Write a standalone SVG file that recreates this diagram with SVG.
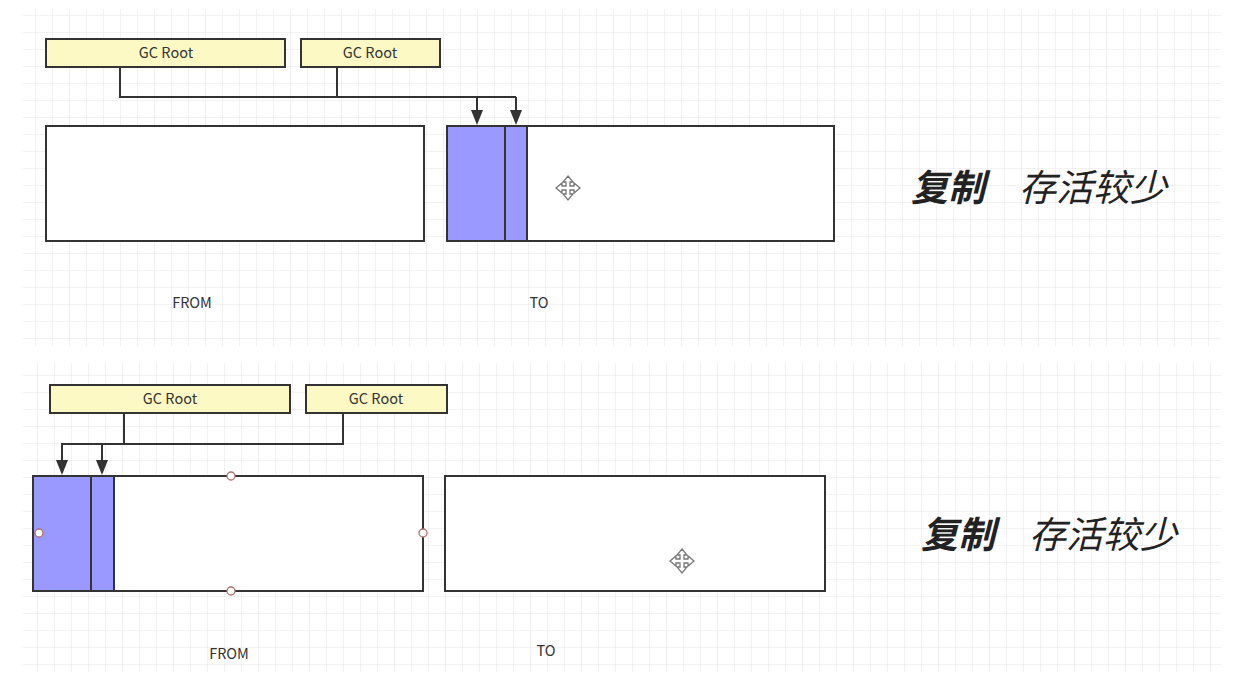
<svg xmlns="http://www.w3.org/2000/svg" width="1239" height="679" viewBox="0 0 1239 679">
<defs>
<style>
.root{fill:#fdf9c4;stroke:#333;stroke-width:2}
.box{fill:#fff;stroke:#333;stroke-width:2}
.blue{fill:#9999ff;stroke:#333;stroke-width:2}
.conn{fill:none;stroke:#333;stroke-width:2}
.lbl{font-family:"Noto Sans CJK SC","Open Sans",sans-serif;font-size:14.5px;fill:#333;text-anchor:middle}
.big{font-family:"Noto Sans CJK SC",sans-serif;font-size:37px;fill:#222;font-style:italic}
.handle{fill:#fff;stroke:#b07070;stroke-width:1.3}
.cur{fill:#fff;stroke:#777;stroke-width:1.3}
.ah{fill:#333}
</style>
<pattern id="g1" x="1" y="15" width="17" height="17" patternUnits="userSpaceOnUse">
<path d="M0 0H17M0 0V17" fill="none" stroke="#e6e6e6" stroke-width="1"/>
</pattern>
<pattern id="g2" x="3" y="1" width="17" height="17" patternUnits="userSpaceOnUse">
<path d="M0 0H17M0 0V17" fill="none" stroke="#e6e6e6" stroke-width="1"/>
</pattern>
<g id="cursor">
<path class="cur" d="M0 -12L5 -6L2 -6L2 -2L6 -2L6 -5L12 0L6 5L6 2L2 2L2 6L5 6L0 12L-5 6L-2 6L-2 2L-6 2L-6 5L-12 0L-6 -5L-6 -2L-2 -2L-2 -6L-5 -6Z"/>
</g>
</defs>
<rect width="1239" height="679" fill="#fff"/>
<rect x="23" y="9" width="1198" height="338" fill="url(#g1)"/>
<rect x="23" y="363" width="1198" height="309" fill="url(#g2)"/>

<!-- top panel -->
<g id="top-from"><rect class="box" x="46" y="126" width="378" height="115"/></g>
<g id="top-to">
<rect class="box" x="447" y="126" width="387" height="115"/>
<rect class="blue" x="447" y="126" width="58" height="115"/>
<rect class="blue" x="505" y="126" width="22" height="115"/>
</g>
<g id="top-root1"><rect class="root" x="46" y="39" width="239" height="28"/><text class="lbl" x="166" y="58">GC Root</text></g>
<g id="top-root2"><rect class="root" x="301" y="39" width="139" height="28"/><text class="lbl" x="370" y="58">GC Root</text></g>
<g id="top-connectors">
<path class="conn" d="M120 67V97H516"/>
<path class="conn" d="M337 67V97"/>
<path class="conn" d="M477 97V112"/>
<path class="conn" d="M516 97V112"/>
<path class="ah" d="M471 110L483 110L477 125Z"/>
<path class="ah" d="M510 110L522 110L516 125Z"/>
</g>
<use href="#cursor" x="568" y="188"/>
<text class="big" x="911" y="201" font-weight="bold">复制</text>
<text class="big" x="1019" y="201">存活较少</text>
<text class="lbl" x="192" y="308">FROM</text>
<text class="lbl" x="539" y="308">TO</text>

<!-- bottom panel -->
<g id="bot-from">
<rect class="box" x="33" y="476" width="390" height="115"/>
<rect class="blue" x="33" y="476" width="58" height="115"/>
<rect class="blue" x="91" y="476" width="23" height="115"/>
<circle class="handle" cx="231" cy="476" r="4"/>
<circle class="handle" cx="231" cy="591" r="4"/>
<circle class="handle" cx="39" cy="533" r="4"/>
<circle class="handle" cx="423" cy="533" r="4"/>
</g>
<g id="bot-to"><rect class="box" x="445" y="476" width="380" height="115"/></g>
<g id="bot-root1"><rect class="root" x="50" y="385" width="240" height="28"/><text class="lbl" x="170" y="404">GC Root</text></g>
<g id="bot-root2"><rect class="root" x="306" y="385" width="141" height="28"/><text class="lbl" x="376" y="404">GC Root</text></g>
<g id="bot-connectors">
<path class="conn" d="M124 413V444"/>
<path class="conn" d="M343 413V444H62V462"/>
<path class="conn" d="M102 444V462"/>
<path class="ah" d="M56 460L68 460L62 475Z"/>
<path class="ah" d="M96 460L108 460L102 475Z"/>
</g>
<use href="#cursor" x="682" y="561"/>
<text class="big" x="921" y="548" font-weight="bold">复制</text>
<text class="big" x="1029" y="548">存活较少</text>
<text class="lbl" x="229" y="659">FROM</text>
<text class="lbl" x="546" y="656">TO</text>
</svg>
